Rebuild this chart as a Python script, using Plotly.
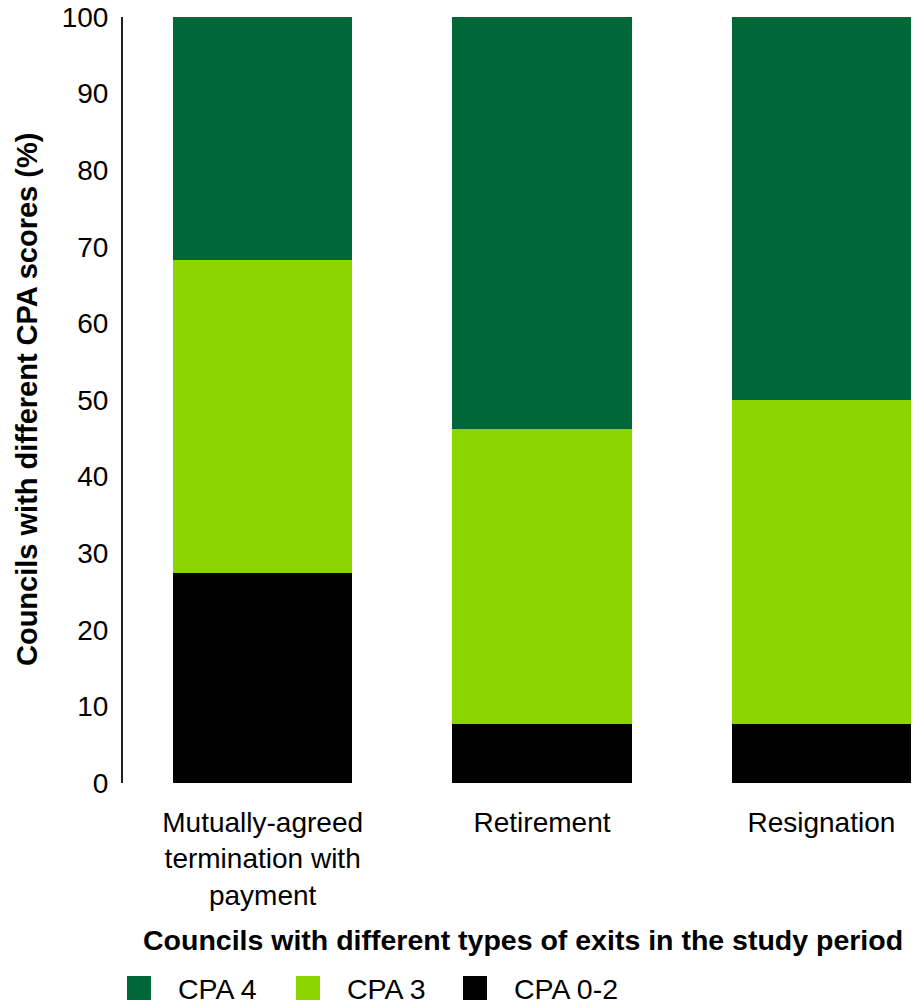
import plotly.graph_objects as go

categories = ["Mutually-agreed<br>termination with<br>payment", "Retirement", "Resignation"]
cpa_0_2 = [27.4, 7.7, 7.7]
cpa_3 = [40.9, 38.5, 42.3]
cpa_4 = [31.7, 53.8, 50.0]
series_names = ["CPA 0-2", "CPA 3", "CPA 4"]
colors = {"CPA 0-2": "#000000", "CPA 3": "#8CD600", "CPA 4": "#006837"}
legend_order = ["CPA 4", "CPA 3", "CPA 0-2"]
y_ticks = list(range(0, 101, 10))

FONT = "Liberation Sans, Arial, Helvetica, sans-serif"
W, H = 913, 1005
ML, MR, MT, MB = 123, 0, 17, 222
PW, PH = W - ML - MR, H - MT - MB

def px(x):
    return (x - ML) / PW

def py(y):
    return (H - MB - y) / PH

fig = go.Figure()
for name, vals in zip(series_names, [cpa_0_2, cpa_3, cpa_4]):
    fig.add_trace(go.Bar(x=categories, y=vals, name=name,
                         marker=dict(color=colors[name], line=dict(width=0)),
                         showlegend=False))

# manual legend (large square swatches)
leg_x = [127, 296, 463]
for name, lx in zip(legend_order, leg_x):
    fig.add_shape(type="rect", xref="paper", yref="paper",
                  x0=px(lx), x1=px(lx + 24), y0=py(1000), y1=py(976),
                  fillcolor=colors[name], line=dict(width=0))
    fig.add_annotation(xref="paper", yref="paper", x=px(lx + 49), y=py(989),
                       text=name, showarrow=False, xanchor="left", yanchor="middle",
                       font=dict(family=FONT, size=28.5, color="#000000"))

fig.add_annotation(xref="paper", yref="paper", x=px(523), y=py(940),
                   text="<b>Councils with different types of exits in the study period</b>",
                   showarrow=False, xanchor="center", yanchor="middle",
                   font=dict(family=FONT, size=28.5, color="#000000"))

fig.add_annotation(xref="paper", yref="paper", x=px(27), y=0.5,
                   text="<b>Councils with different CPA scores (%)</b>",
                   textangle=-90, showarrow=False, xanchor="center", yanchor="middle",
                   font=dict(family=FONT, size=29, color="#000000"))

fig.update_layout(
    width=W, height=H,
    margin=dict(l=ML, r=MR, t=MT, b=MB, pad=0),
    barmode="stack", bargap=0.358,
    plot_bgcolor="white", paper_bgcolor="white",
    font=dict(family=FONT, size=28, color="#000000"),
    xaxis=dict(range=[-0.5, 2.328], showline=False, showgrid=False, ticks="",
               tickfont=dict(size=28), zeroline=False, ticklabelstandoff=20),
    yaxis=dict(range=[0, 100], tickvals=y_ticks, showline=True, linecolor="#222222",
               linewidth=2, showgrid=False, ticks="", zeroline=False,
               tickfont=dict(size=28), ticklabelstandoff=7),
)

fig.write_html("out.html", config={"displayModeBar": False},
               post_script="document.body.style.margin='0';")
